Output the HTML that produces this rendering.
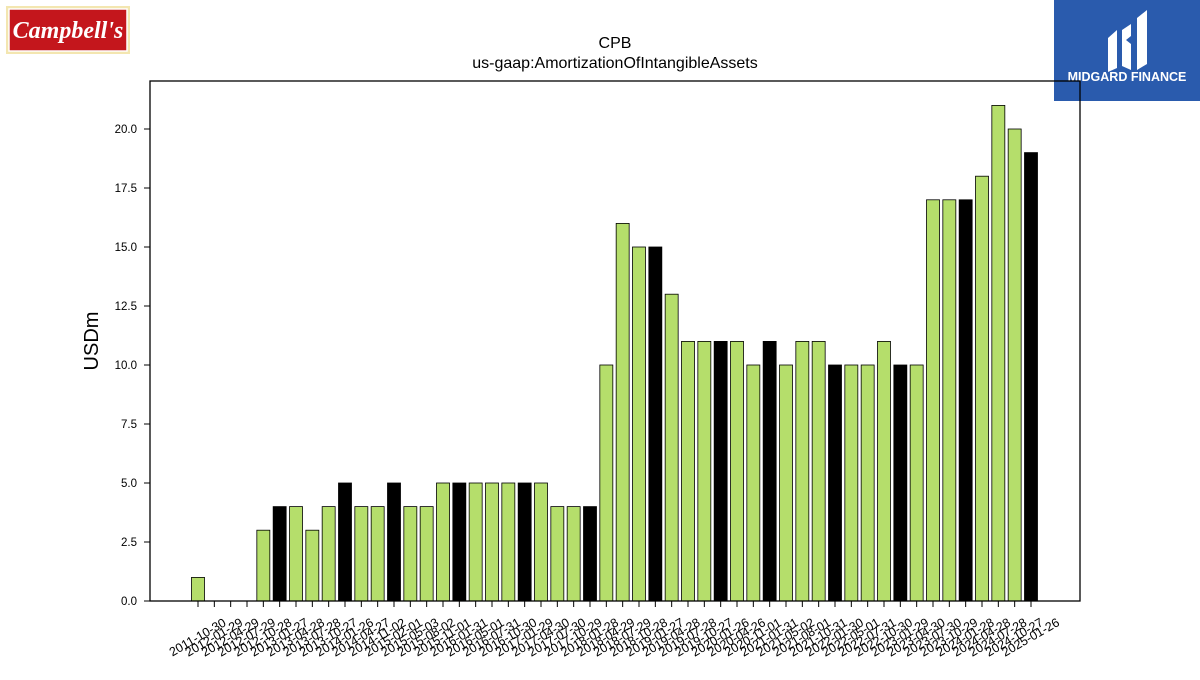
<!DOCTYPE html>
<html><head><meta charset="utf-8"><style>
body{margin:0;background:#fff;width:1200px;height:675px;overflow:hidden;font-family:"Liberation Sans","DejaVu Sans",sans-serif}
</style></head><body>
<svg id="chart" width="1200" height="675" xmlns="http://www.w3.org/2000/svg">
<g>
<rect x="6" y="6" width="124" height="48" fill="#f3e6b0"/>
<rect x="9" y="9" width="118" height="42" fill="#c4161c" stroke="#fff" stroke-width="1.5"/>
<text x="68" y="38" text-anchor="middle" font-family="Liberation Serif,serif" font-style="italic" font-weight="bold" font-size="24" fill="#fff">Campbell's</text>
</g>
<g>
<rect x="1054" y="0" width="146" height="101" fill="#2a5bad"/>
<path d="M1108 38 L1117 30 L1117 68 L1108 72 Z M1122 30 L1131 24 L1131 36 L1126 40 L1131 44 L1131 70 L1122 66 Z M1137 18 L1147 10 L1147 64 L1137 70 Z" fill="#fff"/>
<text x="1127" y="81" text-anchor="middle" font-size="12.5" font-weight="bold" fill="#fff">MIDGARD FINANCE</text>
</g>
<text x="615" y="48" text-anchor="middle" font-size="16">CPB</text>
<text x="615" y="68" text-anchor="middle" font-size="16">us-gaap:AmortizationOfIntangibleAssets</text>
<text transform="translate(98,341) rotate(-90)" text-anchor="middle" font-size="20">USDm</text>
<g id="bars"></g><g id="yaxis"></g><g id="xaxis"></g>
<rect x="150" y="81" width="930" height="520" fill="none" stroke="#000" stroke-width="1.3"/>
</svg>
<script>
const categories=["2011-10-30","2012-01-29","2012-04-29","2012-07-29","2012-10-28","2013-01-27","2013-04-28","2013-07-28","2013-10-27","2014-01-26","2014-04-27","2014-11-02","2015-02-01","2015-05-03","2015-08-02","2015-11-01","2016-01-31","2016-05-01","2016-07-31","2016-10-30","2017-01-29","2017-04-30","2017-07-30","2017-10-29","2018-01-28","2018-04-29","2018-07-29","2018-10-28","2019-01-27","2019-04-28","2019-07-28","2019-10-27","2020-01-26","2020-04-26","2020-11-01","2021-01-31","2021-05-02","2021-08-01","2021-10-31","2022-01-30","2022-05-01","2022-07-31","2022-10-30","2023-01-29","2023-04-30","2023-07-30","2023-10-29","2024-01-28","2024-04-28","2024-07-28","2024-10-27","2025-01-26"];
const values=[1,0,0,0,3,4,4,3,4,5,4,4,5,4,4,5,5,5,5,5,5,5,4,4,4,10,16,15,15,13,11,11,11,11,10,11,10,11,11,10,10,10,11,10,10,17,17,17,18,21,20,19];
const fiscalYearEnd=[5,9,12,16,20,24,28,32,35,39,43,47,51];
const yTicks=[0,2.5,5,7.5,10,12.5,15,17.5,20];
const NS="http://www.w3.org/2000/svg";
const x0=198,step=(1031-198)/(categories.length-1),yBase=601,ppu=23.6;
const xS=i=>x0+i*step, yS=v=>yBase-v*ppu;
const bars=document.getElementById('bars'),xa=document.getElementById('xaxis'),ya=document.getElementById('yaxis');
values.forEach((v,i)=>{
 const r=document.createElementNS(NS,'rect');
 const w=13;
 r.setAttribute('x',xS(i)-w/2);r.setAttribute('y',yS(v));r.setAttribute('width',w);r.setAttribute('height',v*ppu);
 r.setAttribute('fill',fiscalYearEnd.includes(i)?'#000':'#b5de6b');r.setAttribute('stroke','#000');r.setAttribute('stroke-width','0.8');
 
 
 bars.appendChild(r);
});
categories.forEach((c,i)=>{
 const t=document.createElementNS(NS,'line');
 t.setAttribute('x1',xS(i));t.setAttribute('x2',xS(i));t.setAttribute('y1',601);t.setAttribute('y2',607);t.setAttribute('stroke','#000');
 
 
 xa.appendChild(t);
 const l=document.createElementNS(NS,'text');
 l.setAttribute('transform',`translate(${xS(i)},638) rotate(-30)`);l.setAttribute('text-anchor','middle');l.setAttribute('font-size','12.5');l.setAttribute('dominant-baseline','middle');
 l.textContent=c;
 
 
 xa.appendChild(l);
});
yTicks.forEach(v=>{
 const t=document.createElementNS(NS,'line');
 t.setAttribute('x1',144);t.setAttribute('x2',150);t.setAttribute('y1',yS(v));t.setAttribute('y2',yS(v));t.setAttribute('stroke','#000');
 
 
 ya.appendChild(t);
 const l=document.createElementNS(NS,'text');
 l.setAttribute('x',137);l.setAttribute('y',yS(v)+4);l.setAttribute('text-anchor','end');l.setAttribute('font-size','11.5');
 l.textContent=v.toFixed(1);
 
 
 ya.appendChild(l);
});
</script>
</body></html>
